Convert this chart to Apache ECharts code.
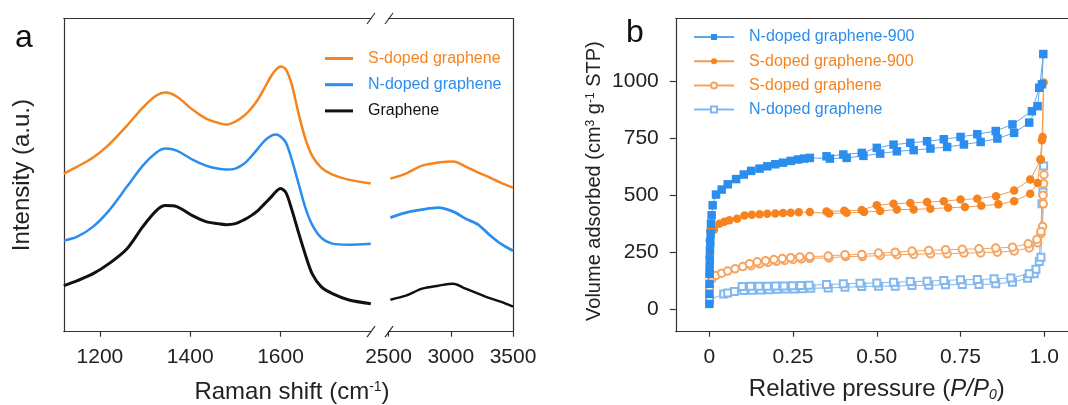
<!DOCTYPE html>
<html>
<head>
<meta charset="utf-8">
<script src="https://cdn.jsdelivr.net/npm/echarts@6/dist/echarts.min.js"></script>
<style>html,body{margin:0;padding:0;background:#fff}#container{width:1068px;height:405px}</style>
</head>
<body>
<div id="container"></div>
<script>
// panel a: Raman spectra (broken x axis), intensity in a.u.
var ramanLeft = [1120, 1150, 1185, 1220, 1260, 1295, 1325, 1345, 1370, 1405, 1435, 1460, 1480, 1500, 1520, 1535, 1550, 1565, 1580, 1590, 1600, 1612, 1625, 1640, 1655, 1670, 1690, 1715, 1750, 1800];
var sDopedLeft = [158, 165, 174, 187, 206, 224, 236, 239, 235, 222, 213, 209, 207, 210, 216, 223, 232, 244, 256, 262, 265, 262, 247, 218, 193, 176, 164, 157, 152, 148];
var nDopedLeft = [91, 95, 105, 121, 145, 166, 179, 183, 181, 172, 166, 163, 162, 163, 168, 175, 183, 191, 196, 197, 195, 189, 172, 148, 124, 107, 94, 88, 87, 88];
var grapheneLeft = [46, 51, 58, 68, 83, 105, 121, 126, 125, 116, 110, 108, 107, 108, 112, 116, 121, 128, 135, 140, 143, 139, 122, 99, 77, 58, 45, 38, 32, 28];

var ramanRight = [2515, 2640, 2770, 2900, 3020, 3120, 3220, 3300, 3400, 3500];
var sDopedRight = [153, 158, 166, 169, 170, 165, 159, 155, 149, 144];
var nDopedRight = [114, 119, 122, 124, 120, 113, 107, 98, 88, 81];
var grapheneRight = [32, 36, 43, 46, 48, 43, 38, 34, 30, 25];

var ramanTicksLeft = [1200, 1400, 1600];
var ramanTicksRight = [2500, 3000, 3500];

// panel b: N2 isotherms, adsorption then desorption branch
var n900P = [0.0002, 0.0004, 0.0006, 0.0008, 0.001, 0.0015, 0.002, 0.003, 0.004, 0.005, 0.007, 0.01, 0.02, 0.037, 0.055, 0.08, 0.103, 0.125, 0.15, 0.173, 0.197, 0.22, 0.243, 0.265, 0.283, 0.3, 0.36, 0.41, 0.46, 0.51, 0.56, 0.61, 0.66, 0.71, 0.76, 0.81, 0.86, 0.91, 0.955, 0.98, 0.997, 0.993, 0.985, 0.963, 0.905, 0.855, 0.8, 0.75, 0.7, 0.65, 0.6, 0.55, 0.5, 0.455, 0.4, 0.35];
var n900V = [22, 66, 110, 154, 183, 220, 257, 293, 330, 374, 411, 455, 502, 524, 547, 570, 590, 606, 616, 626, 635, 642, 650, 656, 660, 663, 660, 663, 672, 682, 692, 697, 704, 711, 722, 733, 748, 773, 818, 890, 1119, 986, 971, 868, 810, 781, 767, 755, 745, 736, 729, 721, 707, 685, 678, 670];

var s900P = [0.0003, 0.0006, 0.001, 0.003, 0.014, 0.03, 0.045, 0.06, 0.083, 0.105, 0.127, 0.15, 0.173, 0.197, 0.22, 0.243, 0.267, 0.3, 0.358, 0.41, 0.462, 0.51, 0.56, 0.61, 0.66, 0.713, 0.763, 0.812, 0.863, 0.91, 0.958, 0.98, 0.988, 0.993, 0.998, 0.995, 0.99, 0.958, 0.91, 0.856, 0.8, 0.75, 0.7, 0.65, 0.6, 0.55, 0.5, 0.455, 0.403, 0.35];
var s900V = [151, 227, 300, 344, 348, 374, 383, 389, 396, 410, 413, 416, 418, 419, 421, 422, 424, 425, 419, 422, 425, 430, 436, 437, 440, 444, 447, 453, 459, 473, 506, 553, 656, 741, 994, 755, 656, 568, 520, 495, 484, 480, 473, 469, 465, 462, 455, 434, 431, 428];

var sGP = [0.001, 0.008, 0.02, 0.037, 0.055, 0.077, 0.1, 0.125, 0.15, 0.175, 0.2, 0.225, 0.25, 0.275, 0.3, 0.357, 0.407, 0.457, 0.51, 0.56, 0.61, 0.66, 0.71, 0.76, 0.81, 0.86, 0.91, 0.955, 0.98, 0.99, 0.995, 0.997, 0.999,
  0.998, 0.996, 0.99, 0.978, 0.952, 0.905, 0.855, 0.805, 0.755, 0.705, 0.655, 0.605, 0.555, 0.505, 0.455, 0.405, 0.355, 0.3, 0.27, 0.243, 0.218, 0.193, 0.168, 0.143, 0.12];
var sGV = [95, 132, 147, 157, 166, 176, 186, 190, 198, 204, 209, 213, 217, 220, 222, 224, 230, 230, 235, 238, 239, 242, 242, 245, 246, 249, 254, 268, 290, 330, 362, 462, 589,
  550, 499, 340, 305, 286, 271, 267, 264, 262, 260, 257, 254, 249, 245, 239, 238, 232, 230, 228, 225, 221, 217, 212, 207, 198];

var nGP = [0.001, 0.043, 0.055, 0.075, 0.103, 0.128, 0.153, 0.178, 0.203, 0.228, 0.253, 0.278, 0.303, 0.355, 0.405, 0.455, 0.505, 0.555, 0.605, 0.655, 0.705, 0.755, 0.805, 0.855, 0.905, 0.95, 0.97, 0.985, 0.993, 0.998,
  0.996, 0.99, 0.975, 0.955, 0.9, 0.85, 0.8, 0.75, 0.7, 0.65, 0.6, 0.55, 0.5, 0.45, 0.4, 0.35, 0.298, 0.273, 0.248, 0.223, 0.198, 0.173, 0.148, 0.123, 0.098];
var nGV = [40, 66, 70, 76, 81, 82, 83, 84, 86, 87, 88, 89, 91, 92, 95, 98, 100, 100, 103, 104, 106, 107, 107, 110, 117, 135, 154, 208, 462, 627,
  513, 227, 174, 154, 136, 132, 129, 128, 125, 122, 120, 117, 114, 113, 110, 107, 104, 103, 102, 101, 101, 100, 100, 99, 98];

var pressureTicks = [0, 0.25, 0.5, 0.75, 1];
var volumeTicks = [0, 250, 500, 750, 1000];

function zip(xs, ys) {
  var out = [];
  for (var i = 0; i < xs.length; i++) out.push([xs[i], ys[i]]);
  return out;
}

var orange = '#f5841f';
var blue = '#2b8ded';
var lightOrange = '#f6a561';
var lightBlue = '#80b8ef';
var axisColor = '#333';
var font = 'Liberation Sans, Arial, sans-serif';

var chart = echarts.init(document.getElementById('container'));

function plain(v) { return String(v); }

function frameAxis(grid, pos, min, max) {
  return {
    type: 'value', gridIndex: grid, position: pos, min: min, max: max,
    axisLine: { show: true, onZero: false, lineStyle: { color: axisColor, width: 1.2 } },
    axisTick: { show: false }, axisLabel: { show: false }, splitLine: { show: false }
  };
}

function tickAxis(grid, min, max, ticks, fmt) {
  return {
    type: 'value', gridIndex: grid, position: 'bottom', min: min, max: max,
    axisLine: { show: true, onZero: false, lineStyle: { color: axisColor, width: 1.2 } },
    axisTick: { show: true, customValues: ticks, length: 5, lineStyle: { color: axisColor, width: 1.2 } },
    axisLabel: { customValues: ticks, margin: 15, fontSize: 21, color: '#222', fontFamily: font, formatter: fmt || plain },
    splitLine: { show: false }
  };
}

function ramanSeries(name, xs, ys, color, width, xi, yi) {
  return {
    name: name, type: 'line', xAxisIndex: xi, yAxisIndex: yi, data: zip(xs, ys),
    symbol: 'none', smooth: 0.3, lineStyle: { width: width, color: color }, itemStyle: { color: color }
  };
}

function isoSeries(name, xs, ys, symbol, size, color, lineColor) {
  return {
    name: name, type: 'line', xAxisIndex: 4, yAxisIndex: 2, data: zip(xs, ys),
    symbol: symbol, symbolSize: size, showAllSymbol: true,
    lineStyle: { width: 1, color: lineColor }, itemStyle: { color: color, borderWidth: 1 }
  };
}

var option = {
  animation: false,
  textStyle: { fontFamily: font },
  grid: [
    { left: 63.8, top: 18.5, width: 307, height: 313.2, outerBoundsMode: 'none' },
    { left: 388.5, top: 18.5, width: 124.5, height: 313.2, outerBoundsMode: 'none' },
    { left: 675.8, top: 18.5, width: 402, height: 313.2, outerBoundsMode: 'none' }
  ],
  xAxis: [
    tickAxis(0, 1120, 1800, ramanTicksLeft),
    frameAxis(0, 'top', 1120, 1800),
    tickAxis(1, 2500, 3500, ramanTicksRight),
    frameAxis(1, 'top', 2500, 3500),
    Object.assign(tickAxis(2, -0.1, 1.1, pressureTicks, function (v) {
      return v === 0 ? '0' : (v === 1 ? '1.0' : v.toFixed(2));
    }), {
      name: 'Relative pressure ({i|P/P}{sub|0})', nameLocation: 'middle', nameGap: 46,
      nameTextStyle: { fontSize: 24, color: '#222', fontFamily: font,
        rich: { i: { fontStyle: 'italic', fontSize: 24 }, sub: { fontStyle: 'italic', fontSize: 14, verticalAlign: 'bottom' } } }
    }),
    frameAxis(2, 'top', -0.1, 1.1)
  ],
  yAxis: [
    Object.assign(frameAxis(0, 'left', 0, 313), {
      name: 'Intensity (a.u.)', nameLocation: 'middle', nameGap: 29,
      nameTextStyle: { fontSize: 24, color: '#222', fontFamily: font }
    }),
    frameAxis(1, 'right', 0, 313),
    {
      type: 'value', gridIndex: 2, position: 'left', min: -100, max: 1275,
      axisLine: { show: true, onZero: false, lineStyle: { color: axisColor, width: 1.2 } },
      axisTick: { show: true, customValues: volumeTicks, length: 6, lineStyle: { color: axisColor, width: 1.2 } },
      axisLabel: { customValues: volumeTicks, margin: 17, fontSize: 21, color: '#222', fontFamily: font, formatter: plain },
      splitLine: { show: false },
      name: 'Volume adsorbed (cm{sup|3} g{sup|-1} STP)', nameLocation: 'middle', nameGap: 71,
      nameTextStyle: { fontSize: 20, color: '#222', fontFamily: font, padding: [0, 12, 0, 0],
        rich: { sup: { fontSize: 12, verticalAlign: 'top' } } }
    }
  ],
  legend: [
    {
      orient: 'vertical', left: 325, top: 50.5, padding: 0, itemGap: 10.2, itemWidth: 28, itemHeight: 3, icon: 'rect',
      textStyle: { fontSize: 16, fontFamily: font, padding: [0, 0, 0, 10] },
      data: [
        { name: 'S-doped graphene', textStyle: { color: orange } },
        { name: 'N-doped graphene', textStyle: { color: blue } },
        { name: 'Graphene', textStyle: { color: '#111' } }
      ]
    },
    {
      orient: 'vertical', left: 693, top: 29, padding: 0, itemGap: 8.2, itemWidth: 40, itemHeight: 7.5,
      textStyle: { fontSize: 16, fontFamily: font, padding: [0, 0, 0, 10] },
      data: [
        { name: 'N-doped graphene-900', textStyle: { color: blue } },
        { name: 'S-doped graphene-900', textStyle: { color: orange } },
        { name: 'S-doped graphene ', textStyle: { color: orange } },
        { name: 'N-doped graphene ', textStyle: { color: blue } }
      ]
    }
  ],
  graphic: [
    { type: 'text', left: 15, top: 22, style: { text: 'a', fontSize: 32, fill: '#111', font: '32px ' + font } },
    { type: 'text', left: 626, top: 17, style: { text: 'b', fontSize: 32, fill: '#111', font: '32px ' + font } },
    { type: 'text', x: 292, y: 392, style: {
      text: 'Raman shift (cm{sup|-1})', align: 'center', verticalAlign: 'middle', fill: '#222',
      fontSize: 24, fontFamily: font, rich: { sup: { fontSize: 14, verticalAlign: 'top', fontFamily: font, fill: '#222' } }
    } },
    { type: 'line', shape: { x1: 367, y1: 337.2, x2: 375, y2: 326.2 }, style: { stroke: axisColor, lineWidth: 1.2 } },
    { type: 'line', shape: { x1: 385, y1: 337.2, x2: 393, y2: 326.2 }, style: { stroke: axisColor, lineWidth: 1.2 } },
    { type: 'line', shape: { x1: 367, y1: 24, x2: 375, y2: 13 }, style: { stroke: axisColor, lineWidth: 1.2 } },
    { type: 'line', shape: { x1: 385, y1: 24, x2: 393, y2: 13 }, style: { stroke: axisColor, lineWidth: 1.2 } }
  ],
  series: [
    ramanSeries('Graphene', ramanLeft, grapheneLeft, '#111', 3, 0, 0),
    ramanSeries('N-doped graphene', ramanLeft, nDopedLeft, blue, 2.5, 0, 0),
    ramanSeries('S-doped graphene', ramanLeft, sDopedLeft, orange, 2.5, 0, 0),
    ramanSeries('Graphene', ramanRight, grapheneRight, '#111', 2.5, 2, 1),
    ramanSeries('N-doped graphene', ramanRight, nDopedRight, blue, 2.8, 2, 1),
    ramanSeries('S-doped graphene', ramanRight, sDopedRight, orange, 2.5, 2, 1),
    isoSeries('N-doped graphene ', nGP, nGV, 'emptyRect', 7, lightBlue, lightBlue),
    isoSeries('S-doped graphene ', sGP, sGV, 'emptyCircle', 7.5, lightOrange, lightOrange),
    isoSeries('S-doped graphene-900', s900P, s900V, 'circle', 8.5, orange, '#f79a4d'),
    isoSeries('N-doped graphene-900', n900P, n900V, 'rect', 8.5, blue, '#5ea6ee')
  ]
};

chart.setOption(option);
window.addEventListener('resize', function () { chart.resize(); });
</script>
</body>
</html>
